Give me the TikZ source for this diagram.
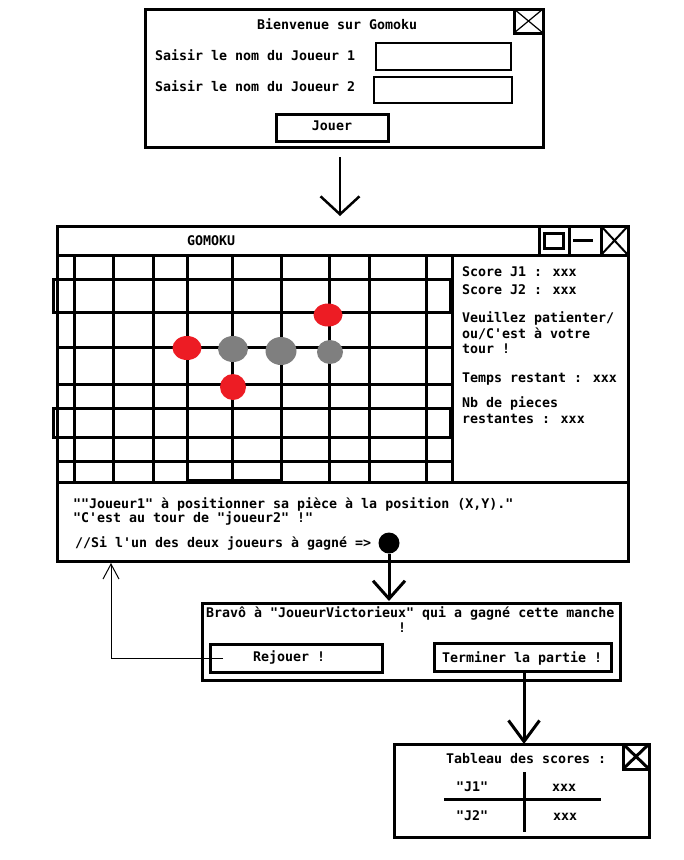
\documentclass[tikz,border=0pt]{standalone}
\usepackage{fontspec}
\newfontfamily\pxfont{DejaVu Sans Mono}
\usetikzlibrary{arrows.meta,shapes.geometric}
\definecolor{stonered}{HTML}{ED1C24}
\definecolor{stonegray}{HTML}{7F7F7F}
\begin{document}
\begin{tikzpicture}[x=1pt,y=-1pt,
  frame/.style={draw, line width=3pt, inner sep=0pt, outer sep=0pt, anchor=north west},
  thinframe/.style={draw, line width=1.2pt, inner sep=0pt, outer sep=0pt, anchor=north west},
  txt/.style={inner sep=0pt, outer sep=0pt, anchor=base west, font=\pxfont\bfseries\fontsize{13.3pt}{16pt}\selectfont},
  gridline/.style={line width=3pt},
  redstone/.style={ellipse, fill=stonered, inner sep=0pt, outer sep=0pt},
  graystone/.style={ellipse, fill=stonegray, inner sep=0pt, outer sep=0pt},
  bigarrow/.style={line width=3pt, -{Straight Barb[length=#1]}},
  thinarrow/.style={line width=1pt, -{Straight Barb[length=15pt, width=16pt]}}
]
\useasboundingbox (0,0) rectangle (684,860);
\fill[white] (0,0) rectangle (684,860);

% ---------- Window 1 ----------
\node[frame, minimum width=398pt, minimum height=138pt] (w1) at (145,9) {};
\node[frame, minimum width=29pt, minimum height=24pt] (w1c) at (514,9) {};
\draw[line width=1.2pt] (w1c.north west) -- (w1c.south east) (w1c.south west) -- (w1c.north east);
\node[txt] (t1) at (257,29) {Bienvenue sur Gomoku};
\node[txt] (l1) at (155,60) {Saisir le nom du Joueur 1};
\node[txt] (l2) at (155,91) {Saisir le nom du Joueur 2};
\node[thinframe, minimum width=135pt, minimum height=27pt] (e1) at (376,43) {};
\node[thinframe, minimum width=138pt, minimum height=26pt] (e2) at (374,77) {};
\node[frame, minimum width=112pt, minimum height=27pt] (jouer) at (276,114) {};
\node[txt, anchor=base] (jt) at (332,130) {Jouer};

% ---------- Window 2 ----------
\node[frame, minimum width=571pt, minimum height=335pt] (w2) at (57,226) {};
\node[frame, minimum width=571pt, minimum height=29pt] (w2t) at (57,226) {};
\node[txt] (gt) at (187,245) {GOMOKU};
\node[frame, minimum width=30pt, minimum height=29pt] (bmax) at (539,226) {};
\node[frame, minimum width=32pt, minimum height=29pt] (bmin) at (569,226) {};
\node[frame, minimum width=27pt, minimum height=29pt] (bclose) at (601,226) {};
\node[draw, line width=3pt, inner sep=0pt, minimum width=19pt, minimum height=15pt] (sq) at (bmax.center) {};
\draw[line width=3pt] ([xshift=-12pt]bmin.center) -- ([xshift=8pt]bmin.center);
\draw[line width=2pt] (bclose.north west) -- (bclose.south east) (bclose.south west) -- (bclose.north east);

% board
\foreach \yy in {279,312,347,384,408,437,461}
  \draw[gridline] (57,\yy) -- (452,\yy);
\foreach \xx in {74,113,153,187,232,281,329,369,426}
  \draw[gridline] (\xx,255) -- (\xx,482);
\draw[gridline] (53,279) rectangle (450,312);
\draw[gridline] (53,408) rectangle (450,437);
\draw[line width=5pt] (187,481) -- (282,481);

% stones
\node[redstone, minimum width=29pt, minimum height=24pt] (s1) at (187,348) {};
\node[graystone, minimum width=30pt, minimum height=26pt] (s2) at (233,349) {};
\node[graystone, minimum width=31pt, minimum height=28pt] (s3) at (281,351) {};
\node[redstone, minimum width=29pt, minimum height=23pt] (s4) at (328,315) {};
\node[graystone, minimum width=26pt, minimum height=24pt] (s5) at (330,352) {};
\node[redstone, minimum width=26pt, minimum height=26pt] (s6) at (233,387) {};

% right panel
\node[frame, minimum width=176pt, minimum height=227pt] (rp) at (452,255) {};
\node[txt] (r1) at (462,276) {Score J1 : xxx};
\node[txt] (r2) at (462,294) {Score J2 : xxx};
\node[txt] (r3) at (462,322) {Veuillez patienter/};
\node[txt] (r4) at (462,338) {ou/C'est à votre};
\node[txt] (r5) at (462,353) {tour !};
\node[txt] (r6) at (462,382) {Temps restant : xxx};
\node[txt] (r7) at (462,407) {Nb de pieces};
\node[txt] (r8) at (462,423) {restantes : xxx};

% message panel
\node[frame, minimum width=571pt, minimum height=79pt] (mp) at (57,482) {};
\node[txt] (m1) at (73,508) {""Joueur1" à positionner sa pièce à la position (X,Y)."};
\node[txt] (m2) at (73,522) {"C'est au tour de "joueur2" !"};
\node[txt] (m3) at (75,547) {//Si l'un des deux joueurs à gagné =>};
\node[circle, fill=black, inner sep=0pt, minimum size=21pt] (dot) at (389,543) {};

% ---------- Window 3 ----------
\node[frame, minimum width=418pt, minimum height=77pt] (bravo) at (202,603) {};
\node[txt] (b1) at (206,617) {Bravô à "JoueurVictorieux" qui a gagné cette manche};
\node[txt, anchor=base] (b2) at (402,632) {!};
\node[frame, minimum width=172pt, minimum height=28pt] (rejouer) at (210,644) {};
\node[txt] (rj) at (253,661) {Rejouer !};
\node[frame, minimum width=177pt, minimum height=28pt] (term) at (434,643) {};
\node[txt] (tm) at (442,662) {Terminer la partie !};

% ---------- Window 4 ----------
\node[frame, minimum width=255pt, minimum height=93pt] (w4) at (394,744) {};
\node[frame, minimum width=26pt, minimum height=25pt] (w4c) at (623,744) {};
\draw[line width=3pt] (w4c.north west) -- (w4c.south east) (w4c.south west) -- (w4c.north east);
\node[txt] (ts) at (446,763) {Tableau des scores :};
\node[txt] (j1) at (456,791) {"J1"};
\node[txt] (x1) at (552,791) {xxx};
\node[txt] (j2) at (456,820) {"J2"};
\node[txt] (x2) at (553,820) {xxx};
\draw[line width=3pt] (444,799) -- (601,799);
\draw[line width=3pt] (524,772) -- (524,832);

% ---------- connectors ----------
\draw[line width=2.5pt, -{Straight Barb[length=18pt, width=39pt]}]
  ([xshift=-4pt,yshift=-10pt]w1.south) -- ([xshift=-4pt,yshift=10pt]w1.south |- w2.north);
\draw[line width=3pt, -{Straight Barb[length=18pt, width=32pt]}]
  (dot.south) -- ([yshift=2pt]dot.south |- bravo.north);
\draw[line width=3pt, -{Straight Barb[length=21pt, width=31pt]}]
  ([xshift=1.5pt]term.south) -- ([xshift=1.5pt]term.south |- w4.north);
\coordinate (fbtop) at (111,563);
\draw[thinarrow] ([xshift=13pt]rejouer.west) -| (fbtop);
\end{tikzpicture}
\end{document}
